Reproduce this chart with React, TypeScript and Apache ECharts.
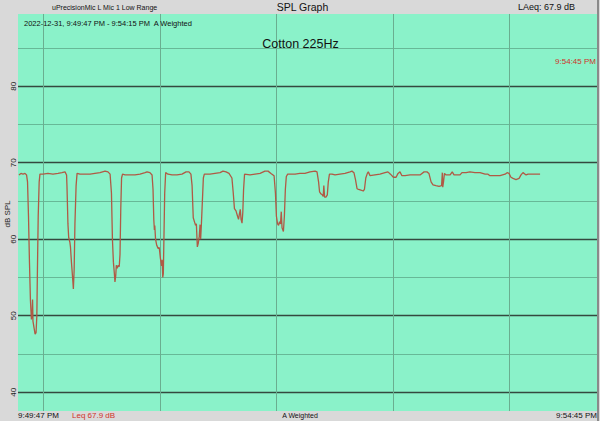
import React, { useEffect, useRef } from "react";
import * as echarts from "echarts";

// Seconds after 9:49:00 PM
const TIME_S = [
  47.5, 48.5, 49.6, 50.6, 51.4, 51.9, 52.4, 52.9, 53.4, 53.9, 54.3, 54.5, 54.7, 55.2, 55.8, 56.3, 56.7, 57.0, 57.4, 57.9, 58.3,
  59.9, 62.4, 65.0, 67.6, 69.6, 71.2, 72.0,
  72.2, 72.7, 73.1, 73.7, 74.0, 74.5, 75.1, 75.5, 75.9, 76.3, 76.9, 77.4,
  78.9, 81.5, 84.1, 86.6, 89.2, 91.8, 93.3, 94.4,
  95.1, 95.6, 96.1, 96.6, 96.9, 97.3, 97.6, 98.1, 98.6, 99.1, 99.5, 99.9, 100.3, 100.8,
  102.1, 104.6, 107.2, 109.8, 112.4, 113.4, 114.9, 116.0,
  116.5, 116.9, 117.2, 117.4, 117.8, 118.4, 119.1, 119.7, 120.3, 120.9, 121.2, 121.5, 121.8, 122.1, 122.5, 123.0,
  124.2, 126.3, 128.8, 131.4, 133.5, 135.0, 136.0,
  136.6, 137.2, 137.8, 138.4, 138.8, 139.3, 139.8, 140.3, 140.7, 141.0, 141.4, 141.9, 142.4, 142.9,
  145.8, 148.4, 151.0, 152.5, 154.1, 155.6, 157.1,
  157.8, 158.4, 159.2, 160.0, 160.5, 160.9, 161.4, 161.8, 162.3, 162.7, 163.1, 163.6,
  166.4, 169.0, 171.6, 174.1, 175.7, 177.2, 178.8,
  179.5, 180.0, 180.6, 181.1, 181.6, 182.1, 182.5, 182.9, 183.6, 184.1, 184.6, 185.1, 185.8,
  187.0, 189.6, 192.1, 194.7, 197.3, 199.9, 200.9,
  201.7, 202.2, 203.0, 203.6, 204.1, 204.4, 204.8, 205.5, 206.2, 206.7, 207.3,
  208.6, 210.2, 212.7, 215.3, 217.9, 218.9, 219.9,
  220.7, 221.5, 222.3, 223.5, 224.7, 225.3, 226.0, 226.8, 227.3, 228.2,
  230.7, 233.3, 235.9, 237.4, 238.7, 240.2, 241.6, 242.6, 243.6, 244.6,
  246.2, 248.8, 251.3, 253.9, 256.0, 257.5, 258.5, 259.6, 260.6, 262.1,
  263.7, 265.0, 265.4, 265.6, 266.0, 266.5, 267.3, 269.4, 270.5, 271.4,
  274.5, 275.5, 277.6, 279.6, 282.2, 284.8, 287.4, 288.9, 289.9, 292.5,
  295.1, 297.7, 298.7, 299.7, 300.7, 301.8, 303.3, 304.9, 305.9, 306.9,
  308.5, 309.5, 313.1, 315.7,
];

// dB SPL (A weighted)
const SPL_DB = [
  68.4, 68.6, 68.5, 68.6, 68.4, 67.5, 63, 57, 52, 49.5, 50.5, 52.1, 49.3, 48.5, 47.6, 47.8, 50, 56, 63, 67.5, 68.5,
  68.5, 68.6, 68.5, 68.6, 68.7, 68.8, 68.4,
  67, 62, 60.2, 59.6, 59.0, 57, 55, 53.5, 56, 62, 67, 68.6,
  68.5, 68.5, 68.5, 68.6, 68.7, 68.9, 68.8, 68.5,
  66, 60, 57, 55.5, 54.4, 55.2, 56.6, 56.2, 56.6, 56.4, 58, 64, 68, 68.5,
  68.4, 68.4, 68.4, 68.5, 68.7, 68.8, 68.7, 68.4,
  66.5, 62.5, 61.2, 61.8, 60, 59.2, 58.8, 58.9, 57.5, 56.5, 57.3, 55.0, 55.5, 60, 66, 68.7,
  68.5, 68.4, 68.4, 68.5, 68.8, 68.8, 68.5,
  67, 62.8, 62.3, 61.8, 62, 59.0, 59.5, 60.4, 61.9, 60, 62, 65, 68, 68.5,
  68.5, 68.6, 68.7, 68.9, 68.8, 68.6, 68.0,
  66, 64, 63.7, 63.0, 62.6, 63.2, 63.9, 62.6, 62.1, 63.5, 66.5, 68.5,
  68.4, 68.5, 68.6, 68.9, 68.9, 68.6, 68.3,
  66, 63, 62, 61.8, 62.3, 62, 63.6, 61.5, 61.0, 63, 66.5, 68.2, 68.5,
  68.5, 68.5, 68.6, 68.6, 68.8, 68.9, 68.8,
  67.5, 66.2, 65.9, 65.8, 65.6, 67.0, 65.5, 65.5, 65.8, 67.5, 68.5,
  68.5, 68.4, 68.5, 68.6, 68.8, 68.9, 68.7,
  67.8, 66.6, 66.5, 66.4, 66.3, 66.5, 68, 68.6, 68.8, 68.3,
  68.4, 68.5, 68.7, 68.8, 68.5, 68.1, 68.1, 68.6, 68.8, 68.3,
  68.3, 68.4, 68.4, 68.4, 68.8, 68.8, 68.6, 67.5, 67.1, 67.0,
  66.9, 67.0, 68.7, 66.8, 67.5, 68.6, 68.4, 68.4, 68.8, 68.4,
  68.4, 68.7, 68.7, 68.8, 68.7, 68.7, 68.5, 68.5, 68.3, 68.3,
  68.3, 68.5, 68.7, 68.6, 68.1, 67.95, 67.8, 67.95, 68.4, 68.7,
  68.4, 68.5, 68.5, 68.5,
];

const MINUTE_MARKS = [60, 120, 180, 240, 300];
const Y_LABELS = [40, 50, 60, 70, 80];
const PLOT_DB_TOP = 89.44;
const PLOT_DB_BOTTOM = 37.54;

export default function App() {
  const ref = useRef<HTMLDivElement>(null);

  useEffect(() => {
    const chart = echarts.init(ref.current!, null, { renderer: "svg" });
    const font = "Liberation Sans";
    const data = TIME_S.map((t, i) => [t, SPL_DB[i]]);
    const txt = (
      text: string,
      x: number,
      y: number,
      size: number,
      align: string,
      fill = "#111",
      rotation = 0
    ) => ({
      type: "text",
      z: 20,
      silent: true,
      x,
      y,
      rotation,
      style: {
        text,
        x: 0,
        y: 0,
        fill,
        font: `${size}px "${font}"`,
        align,
        verticalAlign: "middle",
        textAlign: align,
        textVerticalAlign: "middle",
      },
    });

    chart.setOption({
      animation: false,
      backgroundColor: "#d9d9d9",
      grid: {
        left: 18,
        top: 9.7,
        width: 579,
        height: 459,
        containLabel: false,
        outerBoundsMode: "none",
      },
      xAxis: { type: "value", min: 47, max: 345, show: false },
      yAxis: {
        type: "value",
        min: 30,
        max: 90,
        interval: 10,
        axisLine: { show: false },
        axisTick: { show: false },
        axisLabel: {
          rotate: 90,
          margin: 1,
          fontSize: 8,
          color: "#222",
          fontFamily: font,
          formatter: (v: number) => (Y_LABELS.includes(v) ? String(v) : ""),
        },
        splitLine: {
          show: true,
          lineStyle: {
            color: ["#34493f", "#34493f", "#34493f", "#34493f", "#34493f", "#34493f", "rgba(0,0,0,0)"],
            width: 1.3,
          },
        },
        minorTick: { show: false, splitNumber: 2 },
        minorSplitLine: { show: true, lineStyle: { color: "#5ea98a", width: 0.8 } },
      },
      graphic: [
        {
          type: "rect",
          z: -10,
          silent: true,
          shape: { x: 18, y: 14, width: 579, height: 397 },
          style: { fill: "#8af2c9" },
        },
        {
          type: "line",
          z: 20,
          silent: true,
          shape: { x1: 598, y1: 0, x2: 598, y2: 421 },
          style: { stroke: "#555", lineWidth: 1.2 },
        },
        txt("dB SPL", 7.5, 214, 8, "center", "#222", Math.PI / 2),
        txt("uPrecisionMic L Mic 1 Low Range", 52, 7, 7, "left"),
        txt("SPL Graph", 302.5, 7, 10.5, "center"),
        txt("LAeq: 67.9 dB", 518, 6.5, 9, "left"),
        txt("2022-12-31, 9:49:47 PM - 9:54:15 PM  A Weighted", 24, 23, 7.5, "left"),
        txt("Cotton 225Hz", 300.5, 43.5, 12.5, "center"),
        txt("9:54:45 PM", 596, 61, 8, "right", "#d0322a"),
        txt("9:49:47 PM", 18, 415.5, 8, "left"),
        txt("Leq 67.9 dB", 72, 415.5, 8, "left", "#d0322a"),
        txt("A Weighted", 300, 415, 7, "center"),
        txt("9:54:45 PM", 597, 415.5, 8, "right"),
      ],
      series: [
        {
          type: "line",
          data,
          showSymbol: false,
          symbol: "none",
          lineStyle: { color: "#b05a45", width: 1.3 },
          z: 5,
          markLine: {
            silent: true,
            symbol: ["none", "none"],
            label: { show: false },
            lineStyle: { color: "#6aae90", width: 1, type: "solid" },
            data: MINUTE_MARKS.map((m) => [
              { coord: [m, PLOT_DB_BOTTOM] },
              { coord: [m, PLOT_DB_TOP] },
            ]),
          },
        },
      ],
    });

    return () => chart.dispose();
  }, []);

  return (
    <div
      ref={ref}
      style={{ width: 600, height: 421, position: "fixed", left: 0, top: 0 }}
    />
  );
}
